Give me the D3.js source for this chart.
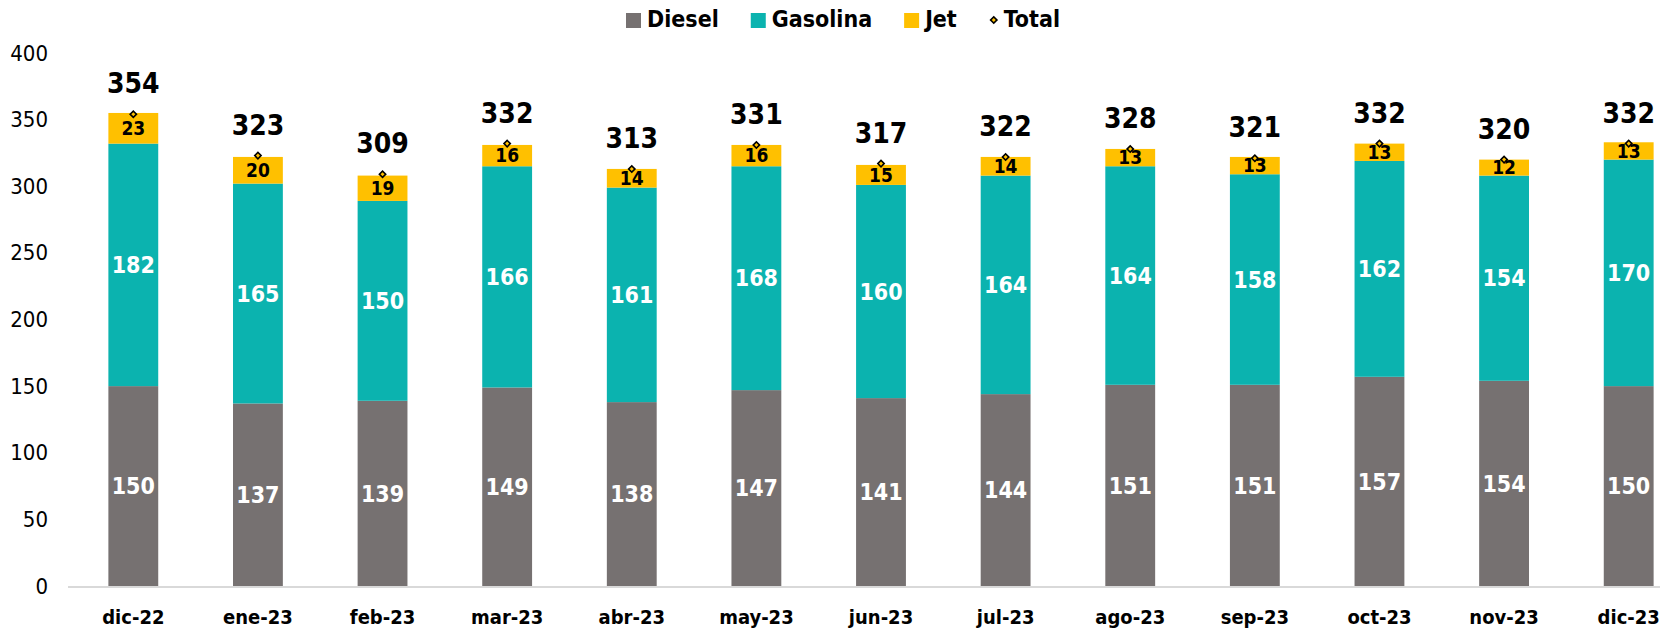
<!DOCTYPE html>
<html>
<head>
<meta charset="utf-8">
<script src="https://cdn.jsdelivr.net/npm/d3@7"></script>
<style>
  body { margin: 0; background: #fff; }
  svg text { font-family: "DejaVu Sans Condensed", "DejaVu Sans", sans-serif; }
</style>
</head>
<body>
<div id="chart-area"></div>
<script>
// DATA
const months = ["dic-22", "ene-23", "feb-23", "mar-23", "abr-23", "may-23", "jun-23",
  "jul-23", "ago-23", "sep-23", "oct-23", "nov-23", "dic-23"]
const diesel = [150, 137, 139, 149, 138, 147, 141, 144, 151, 151, 157, 154, 150]
const gasolina = [182, 165, 150, 166, 161, 168, 160, 164, 164, 158, 162, 154, 170]
const jet = [23, 20, 19, 16, 14, 16, 15, 14, 13, 13, 13, 12, 13]
const total = [354, 323, 309, 332, 313, 331, 317, 322, 328, 321, 332, 320, 332]
const yTicks = [0, 50, 100, 150, 200, 250, 300, 350, 400]

const WIDTH = 1668
const HEIGHT = 630
const COLORS = { Diesel: "#767171", Gasolina: "#0BB3AF", Jet: "#FFC000" }

const svg = d3.select("#chart-area").append("svg")
  .attr("width", WIDTH)
  .attr("height", HEIGHT)

// SCALES
const x = d3.scaleBand()
  .domain(months)
  .range([71, 1691])
  .paddingInner(0.6)
  .paddingOuter(0.3)

const y = d3.scaleLinear()
  .domain([0, 400])
  .range([586, 53])

// stack the three series
const rows = months.map((m, i) => ({ month: m, Diesel: diesel[i], Gasolina: gasolina[i], Jet: jet[i], Total: total[i] }))
const keys = ["Diesel", "Gasolina", "Jet"]
const series = d3.stack().keys(keys)(rows)

// Y AXIS (labels only)
const yAxisCall = d3.axisLeft(y).tickValues(yTicks).tickSize(0).tickPadding(0)
const yAxisGroup = svg.append("g")
  .attr("transform", "translate(48, 0)")
  .call(yAxisCall)
yAxisGroup.select(".domain").remove()
yAxisGroup.selectAll("text")
  .attr("font-size", 22)
  .attr("fill", "#000")
  .style("font-family", null)

// BARS
const layers = svg.selectAll("g.layer")
  .data(series)
  .enter().append("g")
  .attr("class", "layer")
  .attr("fill", d => COLORS[d.key])

layers.selectAll("rect")
  .data(d => d)
  .enter().append("rect")
  .attr("x", d => x(d.data.month))
  .attr("width", x.bandwidth())
  .attr("y", d => y(d[1]))
  .attr("height", d => y(d[0]) - y(d[1]))

// X AXIS baseline
svg.append("line")
  .attr("x1", 68).attr("x2", 1660)
  .attr("y1", y(0) + 1).attr("y2", y(0) + 1)
  .attr("stroke", "#d9d9d9")
  .attr("stroke-width", 2)

const xAxisCall = d3.axisBottom(x).tickSize(0).tickPadding(0)
const xAxisGroup = svg.append("g")
  .attr("transform", `translate(0, ${y(0)})`)
  .call(xAxisCall)
xAxisGroup.select(".domain").remove()
xAxisGroup.selectAll("text")
  .attr("y", 38)
  .attr("dy", null)
  .attr("font-size", 20)
  .attr("font-weight", "bold")
  .attr("fill", "#000")
  .style("font-family", null)

// SEGMENT LABELS
series.forEach(s => {
  const isJet = s.key === "Jet"
  svg.append("g").selectAll("text")
    .data(s)
    .enter().append("text")
    .attr("x", d => x(d.data.month) + x.bandwidth() / 2)
    .attr("y", d => (y(d[0]) + y(d[1])) / 2)
    .attr("dy", "0.36em")
    .attr("text-anchor", "middle")
    .attr("font-weight", "bold")
    .attr("font-size", isJet ? 19 : 23)
    .attr("fill", isJet ? "#000" : "#fff")
    .text(d => d.data[s.key])
})

// TOTAL markers and labels
const marker = d3.symbol().type(d3.symbolSquare).size(20)
svg.append("g").selectAll("path")
  .data(rows)
  .enter().append("path")
  .attr("d", marker)
  .attr("transform", d => `translate(${x(d.month) + x.bandwidth() / 2}, ${y(d.Total)}) rotate(45)`)
  .attr("fill", "#FFC000")
  .attr("stroke", "#000")
  .attr("stroke-width", 1.6)

svg.append("g").selectAll("text")
  .data(rows)
  .enter().append("text")
  .attr("x", d => x(d.month) + x.bandwidth() / 2)
  .attr("y", d => y(d.Total) - 21)
  .attr("text-anchor", "middle")
  .attr("font-weight", "bold")
  .attr("font-size", 28)
  .attr("fill", "#000")
  .text(d => d.Total)

// LEGEND
const legendItems = ["Diesel", "Gasolina", "Jet", "Total"]
const legend = svg.append("g").attr("transform", "translate(0, 27)")
let lx = 626
legendItems.forEach(k => {
  if (k === "Total") {
    legend.append("path")
      .attr("d", marker)
      .attr("transform", `translate(${lx + 5}, -7) rotate(45)`)
      .attr("fill", "#FFC000")
      .attr("stroke", "#000")
      .attr("stroke-width", 1.6)
  } else {
    legend.append("rect")
      .attr("x", lx).attr("y", -14)
      .attr("width", 15).attr("height", 15)
      .attr("fill", COLORS[k])
  }
  const t = legend.append("text")
    .attr("x", lx + (k === "Total" ? 15 : 21))
    .attr("y", 0)
    .attr("font-size", 23)
    .attr("font-weight", "bold")
    .attr("fill", "#000")
    .text(k)
  lx += (k === "Total" ? 15 : 21) + t.node().getComputedTextLength() + 32
})
</script>
</body>
</html>
